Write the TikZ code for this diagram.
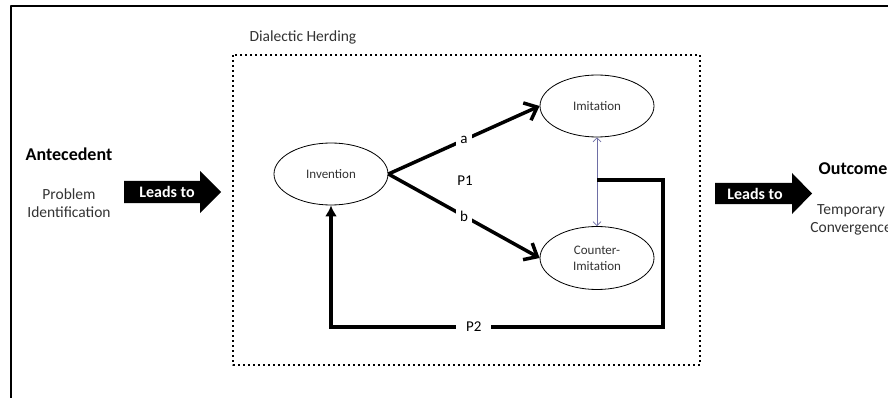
\documentclass[tikz,border=0pt]{standalone}
\usepackage{fontspec}
\setmainfont{Carlito}
\usetikzlibrary{shapes.geometric,arrows.meta}
\tikzset{
	state/.style={draw,ellipse,line width=0.8pt,minimum width=114pt,minimum height=62pt,inner sep=0pt,
		font=\fontsize{13}{16}\selectfont,align=center,text=black!80},
	link/.style={line width=3.5pt,-{Straight Barb[length=11pt,width=19pt]}},
	lbl/.style={fill=white,inner sep=4pt,font=\fontsize{15}{17}\selectfont},
	txt/.style={font=\fontsize{15.5}{18}\selectfont,align=center,text=black!80},
	head/.style={font=\bfseries\fontsize{18}{20}\selectfont},
	leads/.style={text=white,font=\bfseries\fontsize{16}{18}\selectfont,inner sep=0pt},
}
\begin{document}
\begin{tikzpicture}[x=1pt,y=-1pt,line join=round]
	\useasboundingbox (0,0) rectangle (888,398);
	\clip (0,0) rectangle (888,398);
	\fill[white] (0,0) rectangle (888,398);
	\draw[line width=2pt] (11,6) rectangle (930,430);
	% left column
	\node[head] (ante) at (69,154) {Antecedent};
	\node[txt] (prob) at (69,203) {Problem\\Identification};
	\fill (124,181) -- (200,181) -- (200,171) -- (221,192) -- (200,213) -- (200,203) -- (124,203) -- cycle;
	\node[leads] (lead1) at (167,192) {Leads to};
	% dialectic herding
	\draw[line width=2pt,dash pattern=on 2pt off 3pt] (233,55) rectangle (700,365);
	\node[txt,anchor=west] (dh) at (246,37) {Dialectic Herding};
	\node[state] (inv) at (331,174) {Invention};
	\node[state] (imi) at (597,106) {Imitation};
	\node[state,minimum height=63pt] (cimi) at (597,258) {Counter-\\Imitation};
	\draw[link] (inv.east) -- node[lbl] (a) {a} (imi.west);
	\draw[link] (inv.east) -- node[lbl] (b) {b} (cimi.west);
	\node[lbl,fill=none] (p1) at (465,181) {P1};
	\draw[color={rgb,255:red,110;green,110;blue,165},line width=0.7pt,
		{Straight Barb[length=4pt,width=8pt]}-{Straight Barb[length=4pt,width=8pt]}]
		(imi.south) -- (cimi.north);
	\coordinate (fb) at (597,180);
	\coordinate (fbr) at (663,327);
	\draw[line width=3.5pt,line join=miter,-{Latex[length=11pt,width=12pt]}]
		(fb) -| (fbr) -- node[lbl,pos=0.57,inner xsep=10pt] (p2) {P2} (fbr -| inv.south) -- (inv.south);
	% right column
	\fill (715,183) -- (792,183) -- (792,173) -- (812,193.5) -- (792,214) -- (792,204) -- (715,204) -- cycle;
	\node[leads] (lead2) at (755,193.5) {Leads to};
	\node[head] (out) at (853,169) {Outcome};
	\node[txt] (conv) at (851,220) {Temporary\\Convergence};
\end{tikzpicture}
\end{document}
